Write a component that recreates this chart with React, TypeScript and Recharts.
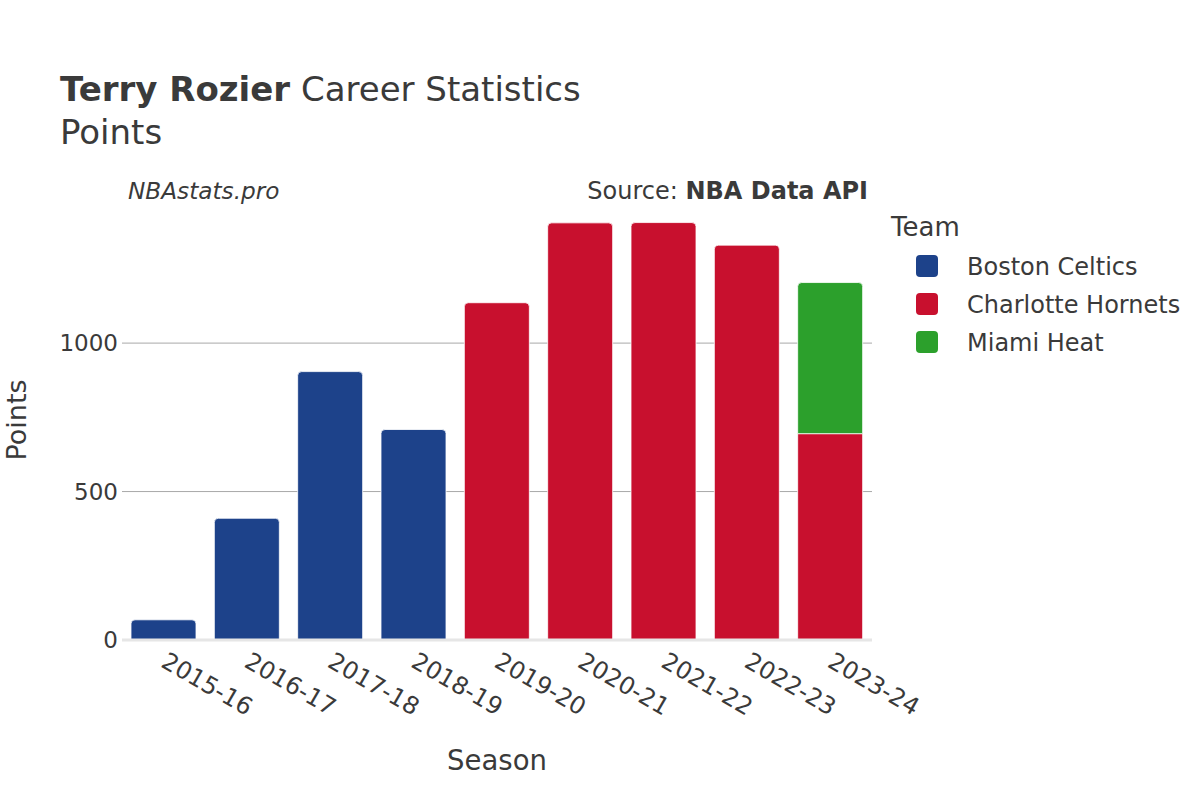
import { BarChart, Bar, XAxis, YAxis, CartesianGrid, ReferenceLine } from "recharts";

const seasons = ["2015-16", "2016-17", "2017-18", "2018-19", "2019-20", "2020-21", "2021-22", "2022-23", "2023-24"];
const bostonCeltics = [68, 410, 904, 709, 0, 0, 0, 0, 0];
const charlotteHornets = [0, 0, 0, 0, 1136, 1405, 1406, 1330, 695];
const miamiHeat = [0, 0, 0, 0, 0, 0, 0, 0, 509];
const yTicks = [0, 500, 1000];

const TEAMS = [
  { key: "Boston Celtics", color: "#1d428a" },
  { key: "Charlotte Hornets", color: "#c8102e" },
  { key: "Miami Heat", color: "#2ca02c" },
];

const FONT = "'DejaVu Sans', sans-serif";
const TEXT = "#3a3a3a";

const rows = seasons.map((season, i) => ({
  season,
  "Boston Celtics": bostonCeltics[i],
  "Charlotte Hornets": charlotteHornets[i],
  "Miami Heat": miamiHeat[i],
}));

// topmost non-empty team in a season gets the rounded corners
const topTeam = (row: Record<string, any>) => {
  let top = "";
  for (const t of TEAMS) if (row[t.key] > 0) top = t.key;
  return top;
};

const makeShape = (team: string) => (props: any) => {
  const { x, y, width, height, fill, payload } = props;
  if (!height || height <= 0) return <g />;
  const r = topTeam(payload) === team ? Math.min(4, height) : 0;
  const d = `M${x},${y + height} L${x},${y + r} Q${x},${y} ${x + r},${y} L${x + width - r},${y} Q${x + width},${y} ${x + width},${y + r} L${x + width},${y + height} Z`;
  return <path d={d} fill={fill} stroke="#ffffff" strokeWidth={0.8} />;
};

const SeasonTick = (props: any) => {
  const { x, y, payload } = props;
  const tx = x - 4;
  const ty = y + 18;
  return (
    <text x={tx} y={ty} transform={`rotate(30, ${tx}, ${ty})`} textAnchor="start" fontSize={24} fill={TEXT} fontFamily={FONT}>
      {payload.value}
    </text>
  );
};

export default function App() {
  return (
    <div style={{ position: "absolute", left: 0, top: 0, width: 1200, height: 800, background: "#fff", fontFamily: FONT }}>
      <BarChart width={1200} height={800} data={rows} margin={{ top: 200, right: 328, bottom: 130, left: 0 }}>
        <CartesianGrid horizontal vertical={false} stroke="#a8a8a8" horizontalValues={[500, 1000]} />
        <XAxis dataKey="season" height={30} tick={<SeasonTick />} tickLine={false} axisLine={false} interval={0} />
        <YAxis
          width={122}
          domain={[0, 1482]}
          ticks={yTicks}
          tickLine={false}
          axisLine={false}
          tickSize={0}
          tickMargin={4}
          tick={{ fontSize: 23, fill: TEXT, fontFamily: FONT }}
        />
        {TEAMS.map(t => (
          <Bar key={t.key} dataKey={t.key} stackId="a" fill={t.color} barSize={65} shape={makeShape(t.key)} isAnimationActive={false} />
        ))}
        <ReferenceLine y={0} stroke="#e6e6e6" strokeWidth={3} />
      </BarChart>

      <svg width={1200} height={800} style={{ position: "absolute", left: 0, top: 0, pointerEvents: "none" }} fontFamily={FONT}>
        <text x={60} y={101} fontSize={34} fill={TEXT}>
          <tspan fontWeight="bold">Terry Rozier</tspan> Career Statistics
        </text>
        <text x={60} y={144} fontSize={34} fill={TEXT}>Points</text>
        <text x={128} y={199} fontSize={23.2} fill={TEXT} fontStyle="italic">NBAstats.pro</text>
        <text x={868} y={199} fontSize={24} fill={TEXT} textAnchor="end">
          Source: <tspan fontWeight="bold">NBA Data API</tspan>
        </text>

        <text x={891} y={236} fontSize={26} fill={TEXT}>Team</text>
        {TEAMS.map((t, i) => (
          <g key={t.key}>
            <rect x={916} y={255 + i * 38} width={22} height={22} rx={4} fill={t.color} />
            <text x={967} y={275 + i * 38} fontSize={24} fill={TEXT}>{t.key}</text>
          </g>
        ))}

        <text x={497} y={770} fontSize={27.5} fill={TEXT} textAnchor="middle">Season</text>
        <text x={26} y={420} fontSize={27} fill={TEXT} textAnchor="middle" transform="rotate(-90, 26, 420)">Points</text>
      </svg>
    </div>
  );
}
